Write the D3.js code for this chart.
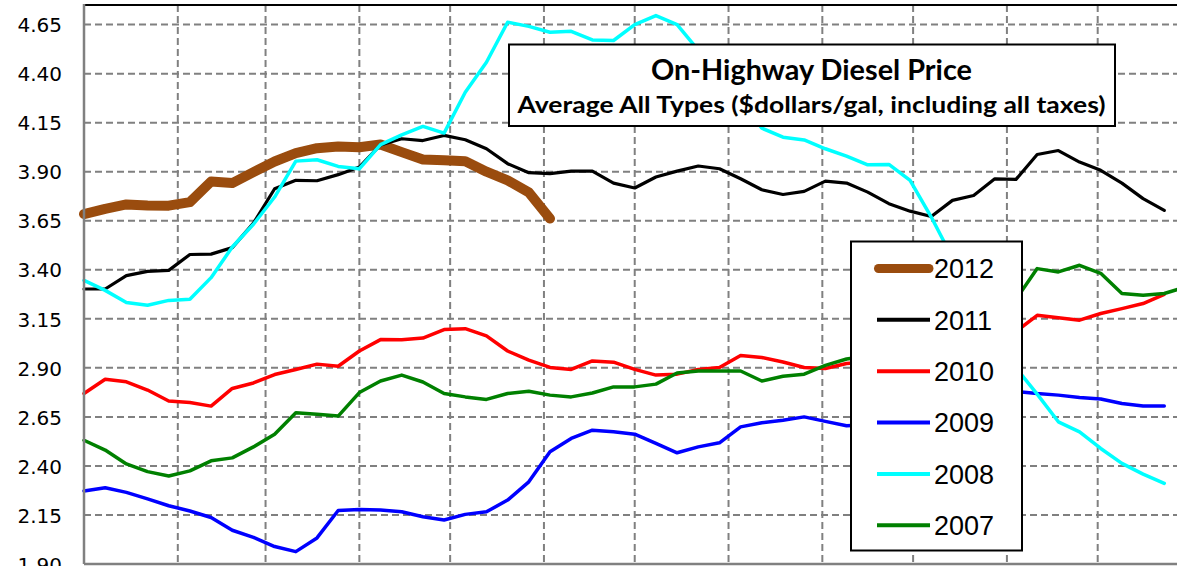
<!DOCTYPE html>
<html>
<head>
<meta charset="utf-8">
<script src="https://cdn.jsdelivr.net/npm/d3@7"></script>
<style>
  html, body { margin: 0; padding: 0; background: #fff; }
  svg { display: block; }
</style>
</head>
<body>
<svg id="chart" width="1177" height="566"></svg>
<script>
// Weekly on-highway diesel prices ($/gal), one array per year, week 0 = first week of January
const years = ["2012", "2011", "2010", "2009", "2008", "2007"];

const prices2012 = [3.684, 3.711, 3.733, 3.728, 3.727, 3.745, 3.850, 3.842, 3.898, 3.952,
  3.995, 4.020, 4.029, 4.025, 4.039, 4.000, 3.962, 3.958, 3.953, 3.900, 3.856, 3.795, 3.661];

const prices2011 = [3.302, 3.302, 3.370, 3.392, 3.397, 3.478, 3.480, 3.513, 3.638, 3.813,
  3.856, 3.854, 3.885, 3.924, 4.037, 4.068, 4.059, 4.085, 4.063, 4.017,
  3.941, 3.895, 3.890, 3.903, 3.903, 3.842, 3.817, 3.873, 3.903, 3.929,
  3.915, 3.864, 3.808, 3.784, 3.800, 3.852, 3.842, 3.796, 3.737, 3.699,
  3.672, 3.754, 3.779, 3.864, 3.861, 3.988, 4.008, 3.949, 3.907, 3.842,
  3.763, 3.703];

const prices2010 = [2.769, 2.842, 2.829, 2.787, 2.731, 2.723, 2.705, 2.795, 2.823, 2.866,
  2.892, 2.919, 2.908, 2.986, 3.044, 3.043, 3.052, 3.095, 3.100, 3.063,
  2.986, 2.939, 2.902, 2.892, 2.935, 2.929, 2.892, 2.863, 2.868, 2.892,
  2.902, 2.963, 2.953, 2.930, 2.902, 2.897, 2.922, 2.930, 2.960, 2.980,
  2.990, 3.030, 3.060, 3.070, 3.085, 3.168, 3.156, 3.143, 3.177, 3.202,
  3.228, 3.275];

const prices2009 = [2.272, 2.289, 2.265, 2.232, 2.197, 2.170, 2.137, 2.072, 2.036, 1.989,
  1.963, 2.033, 2.173, 2.178, 2.175, 2.166, 2.141, 2.124, 2.153, 2.166,
  2.226, 2.319, 2.472, 2.540, 2.582, 2.574, 2.562, 2.515, 2.467, 2.497,
  2.518, 2.599, 2.620, 2.633, 2.650, 2.627, 2.605, 2.610, 2.630, 2.630,
  2.660, 2.720, 2.780, 2.790, 2.780, 2.769, 2.761, 2.749, 2.741, 2.718,
  2.706, 2.706];

const prices2008 = [3.346, 3.295, 3.233, 3.219, 3.244, 3.250, 3.360, 3.516, 3.632, 3.771,
  3.954, 3.961, 3.927, 3.915, 4.038, 4.088, 4.131, 4.097, 4.305, 4.458,
  4.662, 4.641, 4.611, 4.616, 4.572, 4.569, 4.650, 4.696, 4.650, 4.520,
  4.400, 4.270, 4.122, 4.076, 4.062, 4.017, 3.979, 3.935, 3.937, 3.856,
  3.669, 3.460, 3.240, 3.060, 2.900, 2.766, 2.625, 2.574, 2.489, 2.413,
  2.358, 2.311];

const prices2007 = [2.531, 2.481, 2.410, 2.371, 2.349, 2.375, 2.426, 2.441, 2.497, 2.562,
  2.671, 2.664, 2.654, 2.774, 2.833, 2.863, 2.828, 2.769, 2.752, 2.739,
  2.769, 2.781, 2.761, 2.752, 2.772, 2.803, 2.803, 2.817, 2.874, 2.884,
  2.884, 2.884, 2.833, 2.857, 2.868, 2.913, 2.945, 2.960, 2.980, 2.990,
  3.020, 3.050, 3.090, 3.160, 3.250, 3.406, 3.389, 3.423, 3.382, 3.279,
  3.270, 3.279, 3.312];

const yTickLabels = ["1.90", "2.15", "2.40", "2.65", "2.90", "3.15", "3.40", "3.65", "3.90", "4.15", "4.40", "4.65"];

const titleLine1 = "On-Highway Diesel Price";
const titleLine2 = "Average All Types ($dollars/gal, including all taxes)";

const seriesValues = [prices2012, prices2011, prices2010, prices2009, prices2008, prices2007];
const seriesColors = ["#9a4c0e", "#000000", "#ff0000", "#0000ff", "#00ffff", "#008000"];
const seriesWidths = [10, 3.2, 3.5, 3.5, 3.5, 3.5];

// ---- layout ----
const svg = d3.select("#chart");
const W = 1177, H = 566;
const plot = { left: 84, top: 5, bottom: 564, right: 1191.5 };

const yearStart = new Date(Date.UTC(2012, 0, 1));
const yearEnd = new Date(Date.UTC(2013, 0, 1));

const x = d3.scaleUtc().domain([yearStart, yearEnd]).range([plot.left, plot.right]);
const y = d3.scaleLinear().domain([1.90, 4.75]).range([plot.bottom, plot.top]);

const weekDate = i => d3.utcDay.offset(yearStart, 7 * i);

// gridlines
const grid = svg.append("g")
  .attr("stroke", "#808080")
  .attr("stroke-width", 2)
  .attr("stroke-dasharray", "7,4");

grid.selectAll("line.h")
  .data(yTickLabels.slice(1))
  .join("line")
  .attr("x1", plot.left).attr("x2", W)
  .attr("y1", d => y(+d)).attr("y2", d => y(+d));

grid.selectAll("line.v")
  .data(d3.utcMonth.range(d3.utcMonth.offset(yearStart, 1), yearEnd))
  .join("line")
  .attr("x1", d => x(d)).attr("x2", d => x(d))
  .attr("y1", plot.top).attr("y2", plot.bottom);

// price lines, drawn in legend order
const line = d3.line()
  .x((d, i) => x(weekDate(i)))
  .y(d => y(d));

svg.append("g")
  .selectAll("path")
  .data(seriesValues)
  .join("path")
  .attr("d", d => line(d))
  .attr("fill", "none")
  .attr("stroke", (d, i) => seriesColors[i])
  .attr("stroke-width", (d, i) => seriesWidths[i])
  .attr("stroke-linejoin", "round")
  .attr("stroke-linecap", "round");

// frame: top border and axis lines
svg.append("line")
  .attr("x1", plot.left).attr("x2", W)
  .attr("y1", plot.top).attr("y2", plot.top)
  .attr("stroke", "#000").attr("stroke-width", 2);

const yAxis = d3.axisLeft(y)
  .tickValues(yTickLabels.map(Number))
  .tickFormat((d, i) => yTickLabels[i])
  .tickSize(0)
  .tickPadding(22);

const yAxisG = svg.append("g")
  .attr("transform", `translate(${plot.left},0)`)
  .call(yAxis);
yAxisG.select(".domain").remove();
yAxisG.selectAll("text")
  .attr("font-family", "DejaVu Sans, sans-serif")
  .attr("font-size", 20)
  .attr("fill", "#000")
  .attr("dy", "0.36em");

svg.append("line")
  .attr("x1", plot.left).attr("x2", plot.left)
  .attr("y1", plot.top - 1).attr("y2", plot.bottom)
  .attr("stroke", "#808080").attr("stroke-width", 2.5);
svg.append("line")
  .attr("x1", plot.left).attr("x2", W)
  .attr("y1", plot.bottom).attr("y2", plot.bottom)
  .attr("stroke", "#808080").attr("stroke-width", 2.5);

// title box
const tb = { x: 509, y: 44.5, w: 606, h: 81.5 };
const tg = svg.append("g");
tg.append("rect")
  .attr("x", tb.x).attr("y", tb.y).attr("width", tb.w).attr("height", tb.h)
  .attr("fill", "#fff").attr("stroke", "#000").attr("stroke-width", 2);
tg.append("text")
  .attr("x", 811.5).attr("y", 80)
  .attr("text-anchor", "middle")
  .attr("font-family", "Lato, 'Open Sans', sans-serif")
  .attr("font-weight", "bold")
  .attr("font-size", 28)
  .attr("textLength", 321)
  .attr("lengthAdjust", "spacingAndGlyphs")
  .text(titleLine1);
tg.append("text")
  .attr("x", 811.5).attr("y", 113)
  .attr("text-anchor", "middle")
  .attr("font-family", "Lato, 'Open Sans', sans-serif")
  .attr("font-weight", "bold")
  .attr("font-size", 22)
  .attr("textLength", 588)
  .attr("lengthAdjust", "spacingAndGlyphs")
  .text(titleLine2);

// legend
const lg = { x: 851, y: 241.5, w: 171, h: 309, row0: 268.5, step: 51.35 };
const legend = svg.append("g");
legend.append("rect")
  .attr("x", lg.x).attr("y", lg.y).attr("width", lg.w).attr("height", lg.h)
  .attr("fill", "#fff").attr("stroke", "#000").attr("stroke-width", 2);

const rows = legend.selectAll("g.row")
  .data(years)
  .join("g")
  .attr("transform", (d, i) => `translate(0,${lg.row0 + i * lg.step})`);

rows.append("line")
  .attr("x1", (d, i) => i === 0 ? 878.5 : 877)
  .attr("x2", (d, i) => i === 0 ? 929 : 930)
  .attr("y1", 0).attr("y2", 0)
  .attr("stroke", (d, i) => seriesColors[i])
  .attr("stroke-width", (d, i) => i === 0 ? 9 : 4)
  .attr("stroke-linecap", (d, i) => i === 0 ? "round" : "butt");

rows.append("text")
  .attr("x", 934)
  .attr("y", 9.7)
  .attr("font-family", "'Liberation Sans', Arial, sans-serif")
  .attr("font-size", 27)
  .attr("fill", "#000")
  .text(d => d);
</script>
</body>
</html>
